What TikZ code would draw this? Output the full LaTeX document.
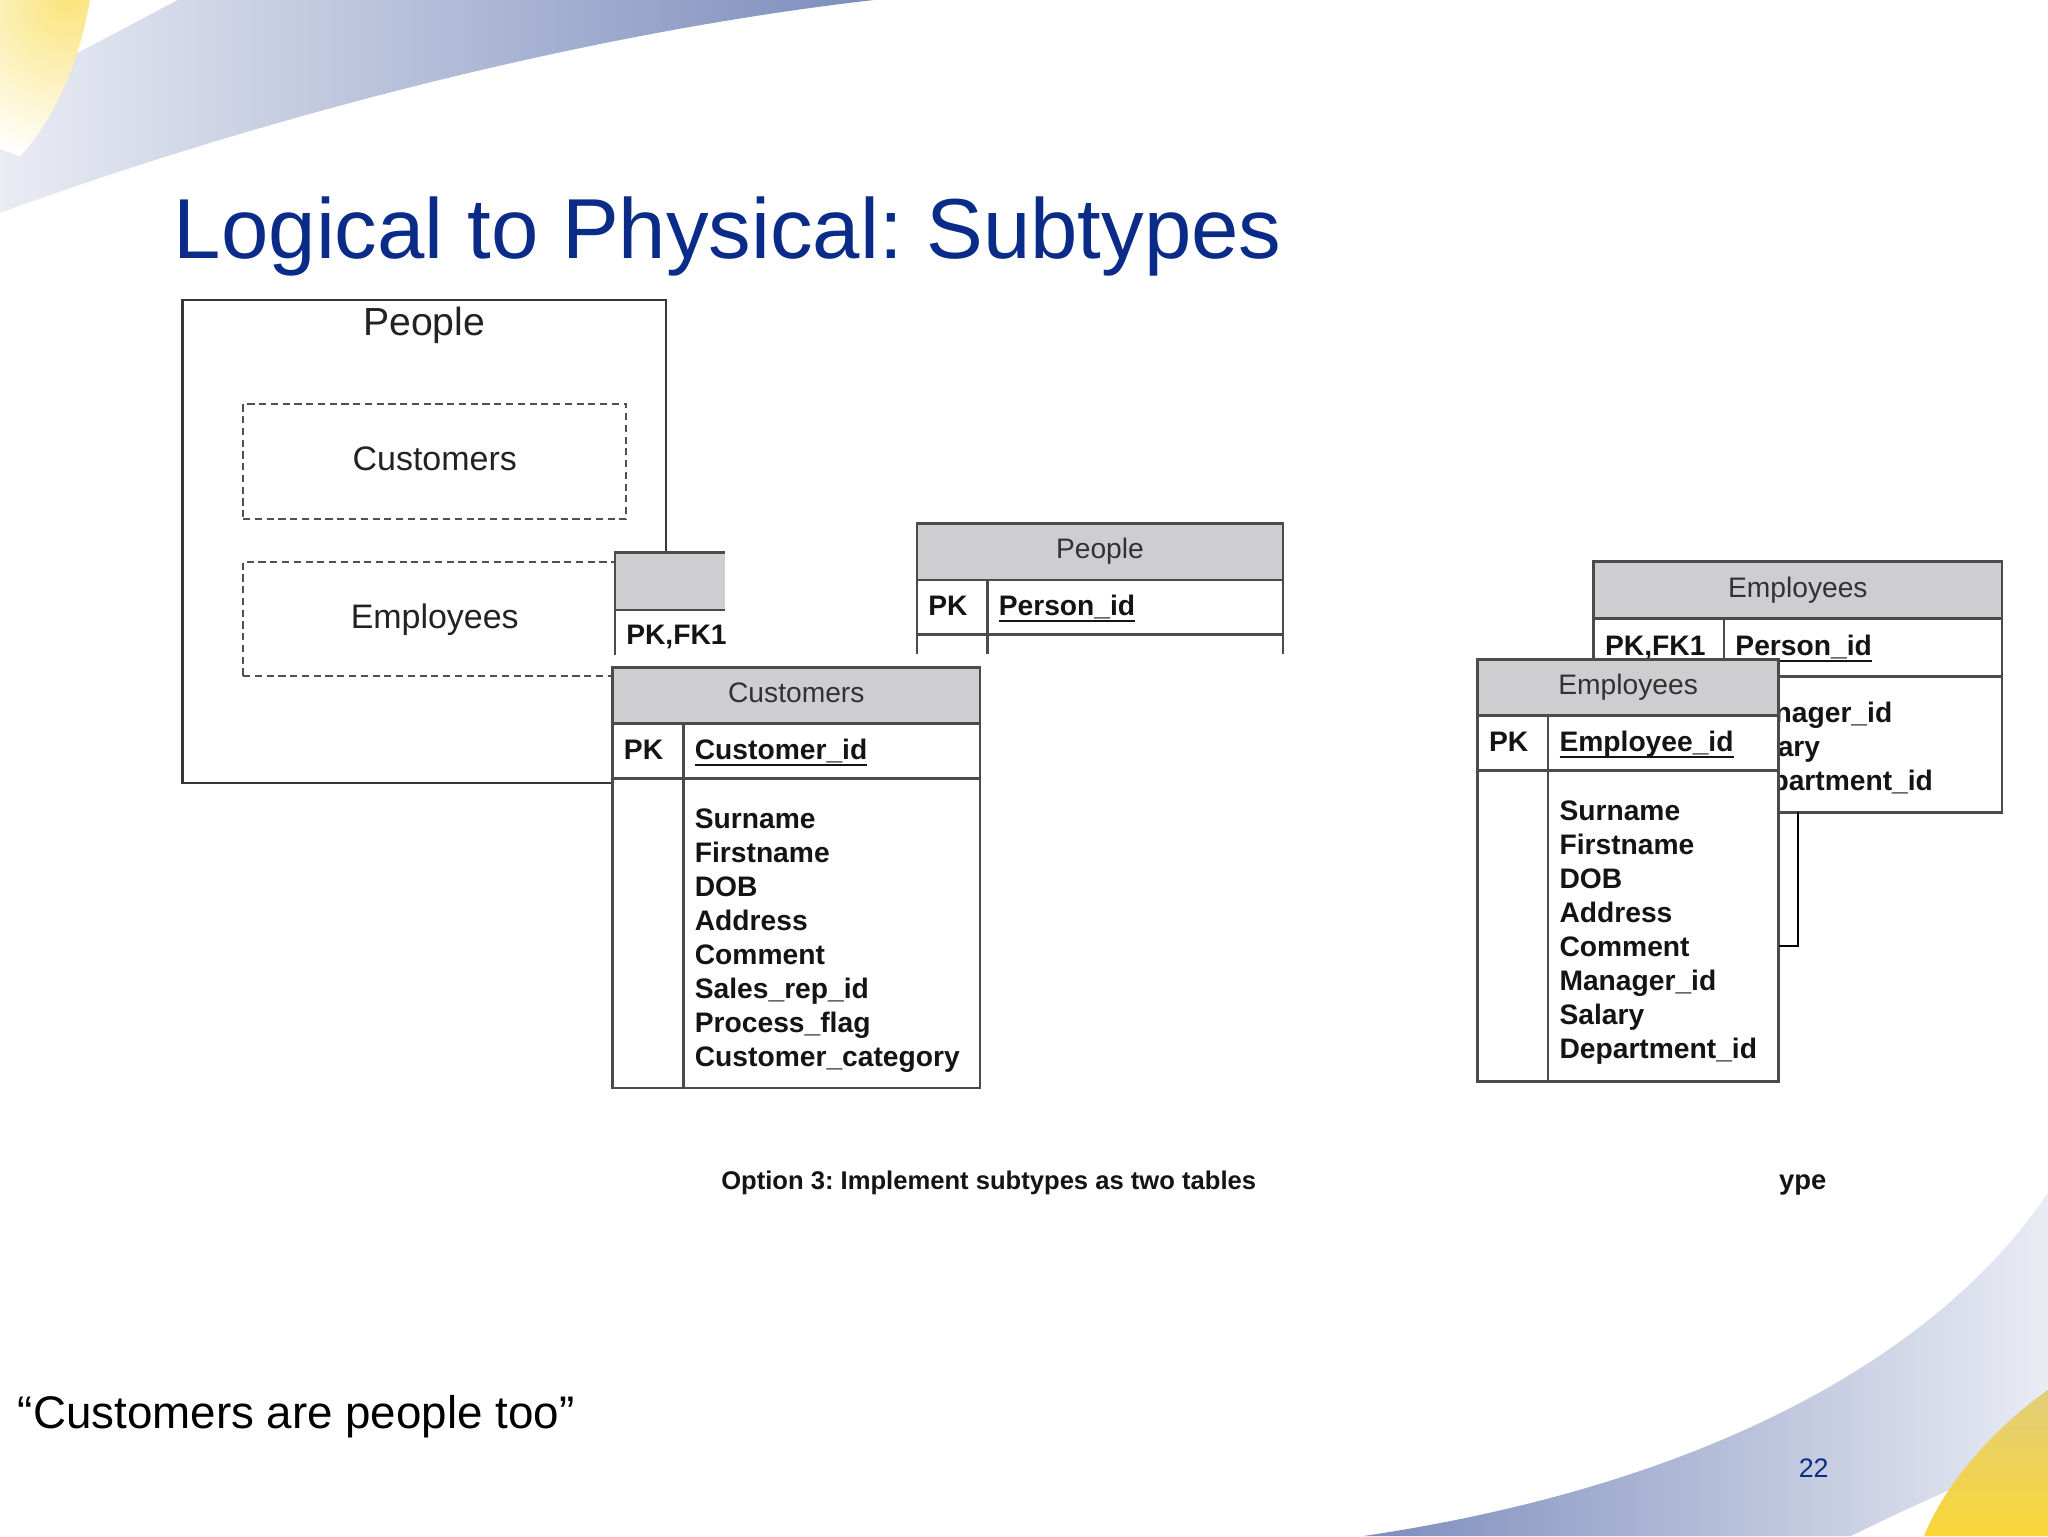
\documentclass[tikz,border=0pt]{standalone}
\usepackage{fontspec}
\setmainfont{Liberation Sans}

\definecolor{titleblue}{RGB}{10,44,136}
\definecolor{hdrgray}{RGB}{206,206,208}
\definecolor{tblgray}{RGB}{75,75,75}
\definecolor{boxgray}{RGB}{55,55,55}
\definecolor{dashgray}{RGB}{80,80,80}
\definecolor{lgtext}{RGB}{34,34,34}
\definecolor{hdrtext}{RGB}{50,50,50}
\definecolor{bodytext}{RGB}{20,20,20}
\definecolor{swdark}{RGB}{124,141,188}
\definecolor{swpale}{RGB}{234,236,244}
\definecolor{swyellow}{RGB}{250,228,125}
\definecolor{ylwtop}{RGB}{226,206,122}
\definecolor{ylwbot}{RGB}{250,214,55}

% key column names are underlined just under the baseline
\newcommand{\keyname}[1]{\setbox0\hbox{#1}\rlap{\rule[-4.9pt]{\wd0}{1.8pt}}\box0}

\begin{document}
\frenchspacing
\begin{tikzpicture}[x=1pt, y=-1pt,
    tblcell/.style={draw=tblgray, line width=2pt, fill=white, inner sep=0pt, outer sep=0pt, anchor=north west},
    tblhead/.style={tblcell, fill=hdrgray, text=hdrtext, font=\fontsize{21.6}{26}\selectfont, text height=15.5pt, text depth=4.5pt},
    keytext/.style={inner sep=0pt, anchor=west, text=bodytext, font=\fontsize{21.6}{26}\selectfont\bfseries, text height=15.5pt, text depth=2.5pt},
    fields/.style={inner sep=0pt, anchor=north west, align=left, text=bodytext, font=\fontsize{21.6}{26.1}\selectfont\bfseries},
    link/.style={draw=black, line width=2pt}]

\useasboundingbox (0,0) rectangle (1568,1176);

% slide background
\shade[left color=swpale, right color=swdark] (0,163) .. controls (200,90) and (450,25) .. (669,0) -- (136,0) -- (0,72) -- cycle;
\begin{scope}
    \clip (0,0) -- (69,0) .. controls (60,50) and (40,100) .. (0,135) -- cycle;
    \shade[inner color=swyellow, outer color=white] (52,0) circle (125);
\end{scope}
\shade[left color=swdark, right color=swpale] (1568,913) .. controls (1490,1030) and (1320,1135) .. (1044,1176) -- (1417,1176) .. controls (1470,1150) and (1520,1128) .. (1568,1110) -- cycle;
\shade[top color=ylwtop, bottom color=ylwbot] (1568,1064) .. controls (1525,1095) and (1490,1135) .. (1473,1176) -- (1568,1176) -- cycle;

\node (title) at (133,198) [anchor=base west, inner sep=0pt, text=titleblue, font=\fontsize{65.2}{78}\selectfont] {Logical to Physical: Subtypes};

% logical model
\begin{scope}[every node/.style={inner sep=0pt, outer sep=0pt, anchor=north west, text=lgtext}]
    \node (lgpeople) at (139.7,229.7) [draw=boxgray, line width=1.6pt, minimum width=370.3pt, minimum height=369.6pt] {};
    \node (lgpeopletxt) at (324.8,256.5) [anchor=base, font=\fontsize{30}{36}\selectfont] {People};
    \node (lgcust) at (186.2,309.3) [draw=dashgray, line width=1.5pt, dash pattern=on 5.5pt off 3.5pt, minimum width=293.3pt, minimum height=88.1pt, font=\fontsize{26}{31}\selectfont, text height=18.7pt, text depth=4.3pt] {Customers};
    \node (lgemp) at (186.2,430) [draw=dashgray, line width=1.5pt, dash pattern=on 5.5pt off 3.5pt, minimum width=293.3pt, minimum height=87.6pt, font=\fontsize{26}{31}\selectfont, text height=18.7pt, text depth=4.3pt] {Employees};
\end{scope}

% cut-off table behind Customers
\node (cutpart) at (470.9,423.2) [fill=white, inner sep=0pt, outer sep=0pt, anchor=north west, minimum width=84.2pt, minimum height=87.8pt] {};
\node (cuthead) at (470.9,423.2) [fill=hdrgray, inner sep=0pt, outer sep=0pt, anchor=north west, minimum width=84.2pt, minimum height=43.8pt] {};
\draw[tblgray, line width=2pt] (cuthead.north east) -- (cuthead.north west) -- ([yshift=-34.5pt]cuthead.south west);
\draw[tblgray, line width=2pt] (cuthead.south west) -- (cuthead.south east);
\node (cutpk) at (479.3,493.8) [keytext, anchor=base west] {PK,FK1};

% People table (cut)
\node (pplhead) at (702,400.7) [tblhead, minimum width=280.3pt, minimum height=43.3pt] {People};
\node (pplpk) at (pplhead.south west) [tblcell, minimum width=54pt, minimum height=41.6pt] {};
\node (pplkey) at (pplpk.north east) [tblcell, minimum width=226.3pt, minimum height=41.6pt] {};
\node (pplpktxt) at ([xshift=8.5pt]pplpk.west) [keytext] {PK};
\node (pplkeytxt) at ([xshift=8.5pt]pplkey.west) [keytext] {\keyname{Person\_id}};
\draw[tblgray, line width=2pt] (pplpk.south west) -- ++(0,15.3) (pplpk.south east) -- ++(0,15.3) (pplkey.south east) -- ++(0,15.3);

% Customers table
\node (custhead) at (469,511) [tblhead, minimum width=281.3pt, minimum height=42.8pt] {Customers};
\node (custpk) at (custhead.south west) [tblcell, minimum width=54.3pt, minimum height=42.4pt] {};
\node (custkey) at (custpk.north east) [tblcell, minimum width=227pt, minimum height=42.4pt] {};
\node (custside) at (custpk.south west) [tblcell, minimum width=54.3pt, minimum height=236.8pt] {};
\node (custbody) at (custside.north east) [tblcell, minimum width=227pt, minimum height=236.8pt] {};
\node (custpktxt) at ([xshift=8.5pt]custpk.west) [keytext] {PK};
\node (custkeytxt) at ([xshift=8.5pt]custkey.west) [keytext] {\keyname{Customer\_id}};
\node (custfields) at ([xshift=8.5pt, yshift=-22.7pt]custbody.north west) [fields] {Surname\\Firstname\\DOB\\Address\\Comment\\Sales\_rep\_id\\Process\_flag\\Customer\_category};

% Employees table (back)
\node (ebhead) at (1220.2,429.9) [tblhead, minimum width=312.5pt, minimum height=43.4pt] {Employees};
\node (ebpk) at (ebhead.south west) [tblcell, minimum width=99.8pt, minimum height=44.4pt] {};
\node (ebkey) at (ebpk.north east) [tblcell, minimum width=212.7pt, minimum height=44.4pt] {};
\node (ebside) at (ebpk.south west) [tblcell, minimum width=99.8pt, minimum height=104.3pt] {};
\node (ebbody) at (ebside.north east) [tblcell, minimum width=212.7pt, minimum height=104.3pt] {};
\node (ebpktxt) at ([xshift=8.5pt]ebpk.west) [keytext] {PK,FK1};
\node (ebkeytxt) at ([xshift=8.5pt]ebkey.west) [keytext] {\keyname{Person\_id}};
\node (ebmgr) at (1358.5,553.4) [keytext, anchor=base west] {nager\_id};
\node (ebsal) at (1360.9,579.5) [keytext, anchor=base west] {ary};
\node (ebdept) at (1356.1,605.5) [keytext, anchor=base west] {partment\_id};

% Employees table (front)
\node (efhead) at (1131.4,504.9) [tblhead, minimum width=230.3pt, minimum height=43pt] {Employees};
\node (efpk) at (efhead.south west) [tblcell, minimum width=53.9pt, minimum height=42pt] {};
\node (efkey) at (efpk.north east) [tblcell, minimum width=176.4pt, minimum height=42pt] {};
\node (efside) at (efpk.south west) [tblcell, minimum width=53.9pt, minimum height=237.9pt] {};
\node (efbody) at (efside.north east) [tblcell, minimum width=176.4pt, minimum height=237.9pt] {};
\node (efpktxt) at ([xshift=8.5pt]efpk.west) [keytext] {PK};
\node (efkeytxt) at ([xshift=8.5pt]efkey.west) [keytext] {\keyname{Employee\_id}};
\node (effields) at ([xshift=8.5pt, yshift=-22.7pt]efbody.north west) [fields] {Surname\\Firstname\\DOB\\Address\\Comment\\Manager\_id\\Salary\\Department\_id};

\draw[link] (ebhead.center |- ebbody.south) |- ([yshift=-15.4pt]efbody.east);

% captions
\node (caption) at (552,910.6) [anchor=base west, inner sep=0pt, text=bodytext, font=\fontsize{19.6}{23}\selectfont\bfseries] {Option 3: Implement subtypes as two tables};
\node (captail) at (1362,910.6) [anchor=base west, inner sep=0pt, text=bodytext, font=\fontsize{21}{25}\selectfont\bfseries] {ype};

\node (quote) at (13.5,1094) [anchor=base west, inner sep=0pt, font=\fontsize{35}{42}\selectfont] {“Customers are people too”};
\node (pagenum) at (1377,1131.5) [anchor=base west, inner sep=0pt, text=titleblue, font=\fontsize{20.5}{24}\selectfont] {22};
\end{tikzpicture}
\end{document}
